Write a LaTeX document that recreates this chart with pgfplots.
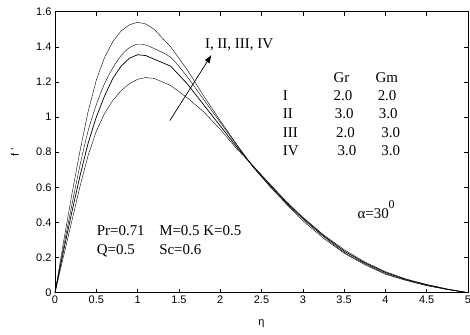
\documentclass[border=0pt]{standalone}
\usepackage{fontspec}
\setmainfont{Liberation Serif}
\setsansfont{Liberation Sans}
\usepackage{pgfplots}
\pgfplotsset{compat=1.18}
\usepackage{pgfplotstable}
\usetikzlibrary{arrows.meta}

\pgfplotstableread{
x     I      II     III    IV
0     0      0      0      0
0.1   0.20   0.23   0.25   0.28
0.2   0.40   0.45   0.49   0.55
0.3   0.60   0.66   0.72   0.80
0.4   0.78   0.85   0.92   1.03
0.5   0.92   1.00   1.07   1.21
0.6   1.02   1.12   1.19   1.34
0.7   1.095  1.22   1.28   1.43
0.8   1.15   1.29   1.35   1.49
0.9   1.19   1.335  1.395  1.525
1.0   1.215  1.355  1.415  1.54
1.1   1.225  1.35   1.41   1.53
1.2   1.22   1.33   1.39   1.50
1.4   1.18   1.29   1.34   1.40
1.6   1.11   1.19   1.23   1.27
1.8   1.03   1.07   1.10   1.12
2.0   0.93   0.95   0.97   0.98
2.2   0.82   0.83   0.84   0.845
2.4   0.72   0.72   0.715  0.715
2.6   0.62   0.615  0.61   0.605
2.8   0.52   0.515  0.51   0.505
3.0   0.43   0.425  0.42   0.41
3.25  0.33   0.325  0.32   0.31
3.5   0.245  0.237  0.23   0.225
3.75  0.175  0.17   0.165  0.16
4.0   0.12   0.115  0.11   0.105
4.25  0.078  0.075  0.072  0.07
4.5   0.047  0.045  0.042  0.04
4.75  0.021  0.02   0.019  0.018
5.0   0      0      0      0
}\datatable

\begin{document}
\begin{tikzpicture}[x=1bp,y=1bp]
\path[use as bounding box] (-55,-41.3) rectangle (415,292.7);
\begin{axis}[
  scale only axis,
  width=413bp, height=281bp,
  xmin=0, xmax=5, ymin=0, ymax=1.6,
  xtick={0,0.5,...,5},
  ytick={0,0.2,...,1.6},
  tick align=inside,
  major tick length=4bp,
  axis line style={line width=0.8pt},
  tick style={black, line width=0.6pt},
  /pgf/number format/assume math mode=true,
  tick label style={font=\sffamily\fontsize{11}{13}\selectfont},
  xlabel={η},
  ylabel={f '},
  label style={font=\sffamily\fontsize{11}{13}\selectfont},
  xlabel style={at={(axis description cs:0.5,-0.109)}, anchor=center},
  ylabel style={at={(axis description cs:-0.097,0.5)}, anchor=center},
  cycle list={{black, line width=0.7pt, smooth, tension=0.5, no markers}},
  clip=false,
]
\addplot table[x=x,y=I] {\datatable};
\addplot table[x=x,y=II] {\datatable};
\addplot table[x=x,y=III] {\datatable};
\addplot table[x=x,y=IV] {\datatable};

\draw[-{Latex[length=8bp,width=6bp]}, line width=0.7pt] (axis cs:1.39,0.98) -- (axis cs:1.895,1.354);

\begin{scope}[every node/.style={font=\fontsize{15}{17}\selectfont, inner sep=0pt, anchor=base west}]
\node at (axis cs:1.814,1.392) {I, II, III, IV};
\node at (axis cs:3.37,1.196) {Gr};
\node at (axis cs:3.88,1.196) {Gm};
\node at (axis cs:2.757,1.093) {I};
\node at (axis cs:2.757,0.993) {II};
\node at (axis cs:2.757,0.885) {III};
\node at (axis cs:2.757,0.780) {IV};
\node at (axis cs:3.37,1.093) {2.0};
\node at (axis cs:3.905,1.093) {2.0};
\node at (axis cs:3.385,0.993) {3.0};
\node at (axis cs:3.92,0.993) {3.0};
\node at (axis cs:3.40,0.885) {2.0};
\node at (axis cs:3.95,0.885) {3.0};
\node at (axis cs:3.42,0.780) {3.0};
\node at (axis cs:3.95,0.780) {3.0};
\node at (axis cs:0.504,0.323) {Pr=0.71};
\node at (axis cs:1.26,0.323) {M=0.5 K=0.5};
\node at (axis cs:0.504,0.219) {Q=0.5};
\node at (axis cs:1.26,0.219) {Sc=0.6};
\node at (axis cs:3.66,0.424) {α=30\raisebox{0.62em}{\fontsize{12}{14}\selectfont 0}};
\end{scope}
\end{axis}
\end{tikzpicture}
\end{document}
